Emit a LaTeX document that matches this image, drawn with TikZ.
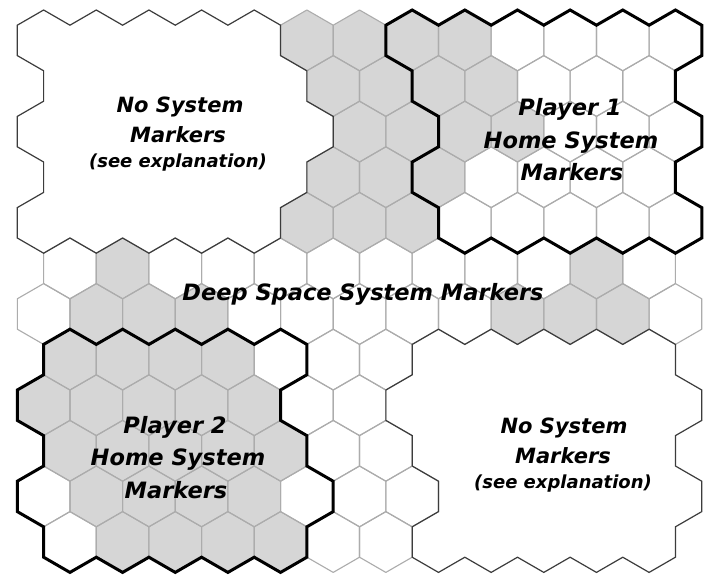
\documentclass[tikz,border=0pt]{standalone}
\usepackage{fontspec}
\newfontfamily\lblfont[BoldFont={* Bold},ItalicFont={* Oblique},BoldItalicFont={* Bold Oblique}]{DejaVu Sans}
\definecolor{hexfill}{RGB}{214,214,214}
\definecolor{hexline}{RGB}{172,172,172}
\definecolor{edgedark}{RGB}{60,60,60}
\tikzset{
  cellfill/.style={fill=hexfill},
  cellline/.style={draw=hexline, line width=1.1pt, line join=round},
  blankedge/.style={draw=edgedark, line width=1.2pt, line join=miter},
  homeedge/.style={draw=black, line width=3pt, line join=miter},
  biglbl/.style={font=\lblfont\bfseries\itshape\fontsize{22.5}{27}\selectfont, anchor=base, inner sep=0pt},
  midlbl/.style={font=\lblfont\bfseries\itshape\fontsize{21}{25}\selectfont, anchor=base, inner sep=0pt},
  smalllbl/.style={font=\lblfont\bfseries\itshape\fontsize{18}{22}\selectfont, anchor=base, inner sep=0pt}
}
\begin{document}
\begin{tikzpicture}[x=1pt,y=-1pt]
\useasboundingbox (0,0) rectangle (711,576);
\fill[white] (0,0) rectangle (711,576);
\begin{scope}[shift={(17.3,10)}, x=26.325pt, y=-15.2pt]
  % gray filled cells
  \foreach \r/\a/\b in {0/5/8,1/5/8,2/6/9,3/5/7,4/5/7,5/1/1,5/10/10,6/1/3,6/9/11,7/0/3,8/0/4,9/0/4,10/1/4,11/1/4}{
    \foreach \k in {\a,...,\b}{
      \pgfmathtruncatemacro\hi{2*\k+1+mod(\r,2)}
      \pgfmathtruncatemacro\hj{3*\r}
      \fill[cellfill] (\hi,\hj) -- ++(1,1) -- ++(0,2) -- ++(-1,1) -- ++(-1,-1) -- ++(0,-2) -- cycle;
    }
  }
  % outlines of all drawn cells
  \foreach \r/\a/\b in {0/5/12,1/5/11,2/6/12,3/5/11,4/5/12,5/0/11,6/0/12,7/0/6,8/0/6,9/0/6,10/0/7,11/0/6}{
    \foreach \k in {\a,...,\b}{
      \pgfmathtruncatemacro\hi{2*\k+1+mod(\r,2)}
      \pgfmathtruncatemacro\hj{3*\r}
      \path[cellline] (\hi,\hj) -- ++(1,1) -- ++(0,2) -- ++(-1,1) -- ++(-1,-1) -- ++(0,-2) -- cycle;
    }
  }
  % blank region, top left
  \path[blankedge] (0,1) -- (1,0) -- (2,1) -- (3,0) -- (4,1) -- (5,0) -- (6,1) -- (7,0) -- (8,1) -- (9,0) -- (10,1)
    -- (10,3) -- (11,4) -- (11,6) -- (12,7) -- (12,9) -- (11,10) -- (11,12) -- (10,13) -- (10,15)
    -- (9,16) -- (8,15) -- (7,16) -- (6,15) -- (5,16) -- (4,15) -- (3,16) -- (2,15) -- (1,16) -- (0,15)
    -- (0,13) -- (1,12) -- (1,10) -- (0,9) -- (0,7) -- (1,6) -- (1,4) -- (0,3) -- cycle;
  % blank region, bottom right
  \path[blankedge] (15,22) -- (16,21) -- (17,22) -- (18,21) -- (19,22) -- (20,21) -- (21,22) -- (22,21) -- (23,22) -- (24,21) -- (25,22)
    -- (25,24) -- (26,25) -- (26,27) -- (25,28) -- (25,30) -- (26,31) -- (26,33) -- (25,34) -- (25,36)
    -- (24,37) -- (23,36) -- (22,37) -- (21,36) -- (20,37) -- (19,36) -- (18,37) -- (17,36) -- (16,37) -- (15,36)
    -- (15,34) -- (16,33) -- (16,31) -- (15,30) -- (15,28) -- (14,27) -- (14,25) -- (15,24) -- cycle;
  % Player 1 home area
  \path[homeedge] (14,1) -- (15,0) -- (16,1) -- (17,0) -- (18,1) -- (19,0) -- (20,1) -- (21,0) -- (22,1) -- (23,0) -- (24,1) -- (25,0) -- (26,1)
    -- (26,3) -- (25,4) -- (25,6) -- (26,7) -- (26,9) -- (25,10) -- (25,12) -- (26,13) -- (26,15)
    -- (25,16) -- (24,15) -- (23,16) -- (22,15) -- (21,16) -- (20,15) -- (19,16) -- (18,15) -- (17,16) -- (16,15)
    -- (16,13) -- (15,12) -- (15,10) -- (16,9) -- (16,7) -- (15,6) -- (15,4) -- (14,3) -- cycle;
  % Player 2 home area
  \path[homeedge] (1,22) -- (2,21) -- (3,22) -- (4,21) -- (5,22) -- (6,21) -- (7,22) -- (8,21) -- (9,22) -- (10,21) -- (11,22)
    -- (11,24) -- (10,25) -- (10,27) -- (11,28) -- (11,30) -- (12,31) -- (12,33) -- (11,34) -- (11,36)
    -- (10,37) -- (9,36) -- (8,37) -- (7,36) -- (6,37) -- (5,36) -- (4,37) -- (3,36) -- (2,37) -- (1,36)
    -- (1,34) -- (0,33) -- (0,31) -- (1,30) -- (1,28) -- (0,27) -- (0,25) -- (1,24) -- cycle;
\end{scope}
% labels
\node[midlbl]   (tl1) at (180,112) {No System};
\node[midlbl]   (tl2) at (178,142) {Markers};
\node[smalllbl] (tl3) at (178,167) {(see explanation)};
\node[biglbl] (p1a) at (570,115) {Player 1};
\node[biglbl] (p1b) at (571,148) {Home System};
\node[biglbl] (p1c) at (572,180) {Markers};
\node[biglbl] (ds) at (363,300) {Deep Space System Markers};
\node[biglbl] (p2a) at (175,433) {Player 2};
\node[biglbl] (p2b) at (178,465) {Home System};
\node[biglbl] (p2c) at (176,498) {Markers};
\node[midlbl]   (br1) at (564,433) {No System};
\node[midlbl]   (br2) at (563,463) {Markers};
\node[smalllbl] (br3) at (563,488) {(see explanation)};
\end{tikzpicture}
\end{document}
